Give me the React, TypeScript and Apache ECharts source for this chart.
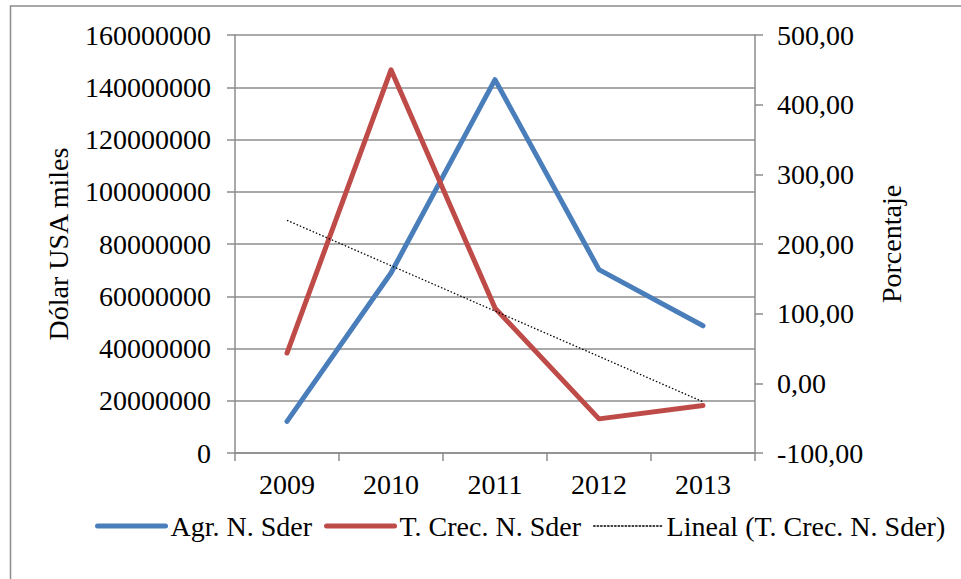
import React, { useEffect, useRef } from "react";
import * as echarts from "echarts";

const years = ["2009", "2010", "2011", "2012", "2013"];
const agrNSder = [12100000, 68900000, 142900000, 70200000, 48700000];
const tCrecNSder = [43.5, 450, 108, -51, -31.7];

const leftName = "Dólar USA miles";
const rightName = "Porcentaje";
const legendNames = ["Agr. N. Sder", "T. Crec. N. Sder", "Lineal (T. Crec. N. Sder)"];

// Least-squares linear trend of the growth series (Excel "Lineal" trendline)
function linearTrend(values: number[]): number[] {
  const n = values.length;
  const xs = values.map((_, i) => i + 1);
  const mx = xs.reduce((a, b) => a + b, 0) / n;
  const my = values.reduce((a, b) => a + b, 0) / n;
  let num = 0;
  let den = 0;
  for (let i = 0; i < n; i++) {
    num += (xs[i] - mx) * (values[i] - my);
    den += (xs[i] - mx) * (xs[i] - mx);
  }
  const slope = num / den;
  return xs.map((x) => +(my + slope * (x - mx)).toFixed(2));
}

const FONT = "'Liberation Serif', 'Times New Roman', serif";
const GREY = "#8c8c8c";
const FS = 28;

export default function App() {
  const ref = useRef<HTMLDivElement>(null);
  useEffect(() => {
    if (!ref.current) return;
    const chart = echarts.init(ref.current, undefined, { renderer: "svg" });
    const trend = linearTrend(tCrecNSder);
    chart.setOption({
      animation: false,
      backgroundColor: "#ffffff",
      textStyle: { fontFamily: FONT },
      graphic: [
        {
          type: "rect",
          shape: { x: 10.5, y: 6, width: 1000, height: 700 },
          style: { fill: "none", stroke: GREY, lineWidth: 1.5 },
          silent: true,
        },
      ],
      grid: { left: 235, right: 206, top: 35, bottom: 126, containLabel: false },
      legend: {
        left: 95,
        top: 512,
        padding: 0,
        itemWidth: 68,
        itemHeight: 14,
        itemGap: 12,
        itemStyle: { opacity: 0 },
        lineStyle: { width: "inherit", type: "inherit", cap: "round" },
        textStyle: { fontFamily: FONT, fontSize: FS, color: "#000" },
        data: legendNames,
      },
      xAxis: {
        type: "category",
        data: years,
        boundaryGap: true,
        axisLine: { lineStyle: { color: GREY, width: 1.5 } },
        axisTick: { show: true, length: 8, lineStyle: { color: GREY, width: 1.5 } },
        axisLabel: { color: "#000", fontFamily: FONT, fontSize: FS, margin: 17 },
        splitLine: { show: false },
      },
      yAxis: [
        {
          type: "value",
          min: 0,
          max: 160000000,
          interval: 20000000,
          name: leftName,
          nameLocation: "middle",
          nameRotate: 90,
          nameGap: 163,
          nameTextStyle: { fontFamily: FONT, fontSize: FS, color: "#000" },
          axisLine: { show: true, lineStyle: { color: GREY, width: 1.5 } },
          axisTick: { show: true, length: 8, lineStyle: { color: GREY, width: 1.5 } },
          axisLabel: {
            color: "#000",
            fontFamily: FONT,
            fontSize: FS,
            margin: 24,
            formatter: (v: number) => String(v),
          },
          splitLine: { show: true, lineStyle: { color: GREY, width: 1.5 } },
        },
        {
          type: "value",
          position: "right",
          min: -100,
          max: 500,
          interval: 100,
          name: rightName,
          nameLocation: "middle",
          nameRotate: 90,
          nameGap: 122,
          nameTextStyle: { fontFamily: FONT, fontSize: FS, color: "#000" },
          axisLine: { show: true, lineStyle: { color: GREY, width: 1.5 } },
          axisTick: { show: true, length: 8, lineStyle: { color: GREY, width: 1.5 } },
          axisLabel: {
            color: "#000",
            fontFamily: FONT,
            fontSize: FS,
            margin: 22,
            formatter: (v: number) => v.toFixed(2).replace(".", ","),
          },
          splitLine: { show: false },
        },
      ],
      series: [
        {
          name: legendNames[0],
          type: "line",
          yAxisIndex: 0,
          data: agrNSder,
          symbol: "none",
          lineStyle: { color: "#4a7ebb", width: 5, cap: "round", join: "round" },
          itemStyle: { color: "#4a7ebb" },
        },
        {
          name: legendNames[1],
          type: "line",
          yAxisIndex: 1,
          data: tCrecNSder,
          symbol: "none",
          lineStyle: { color: "#be4b48", width: 5, cap: "round", join: "round" },
          itemStyle: { color: "#be4b48" },
        },
        {
          name: legendNames[2],
          type: "line",
          yAxisIndex: 1,
          data: trend,
          symbol: "none",
          lineStyle: { color: "#000", width: 1.3, type: [1.5, 2] },
          itemStyle: { color: "#000" },
        },
      ],
    });
    return () => chart.dispose();
  }, []);
  return (
    <div
      ref={ref}
      style={{ position: "fixed", left: 0, top: 0, width: 961, height: 579 }}
    />
  );
}
